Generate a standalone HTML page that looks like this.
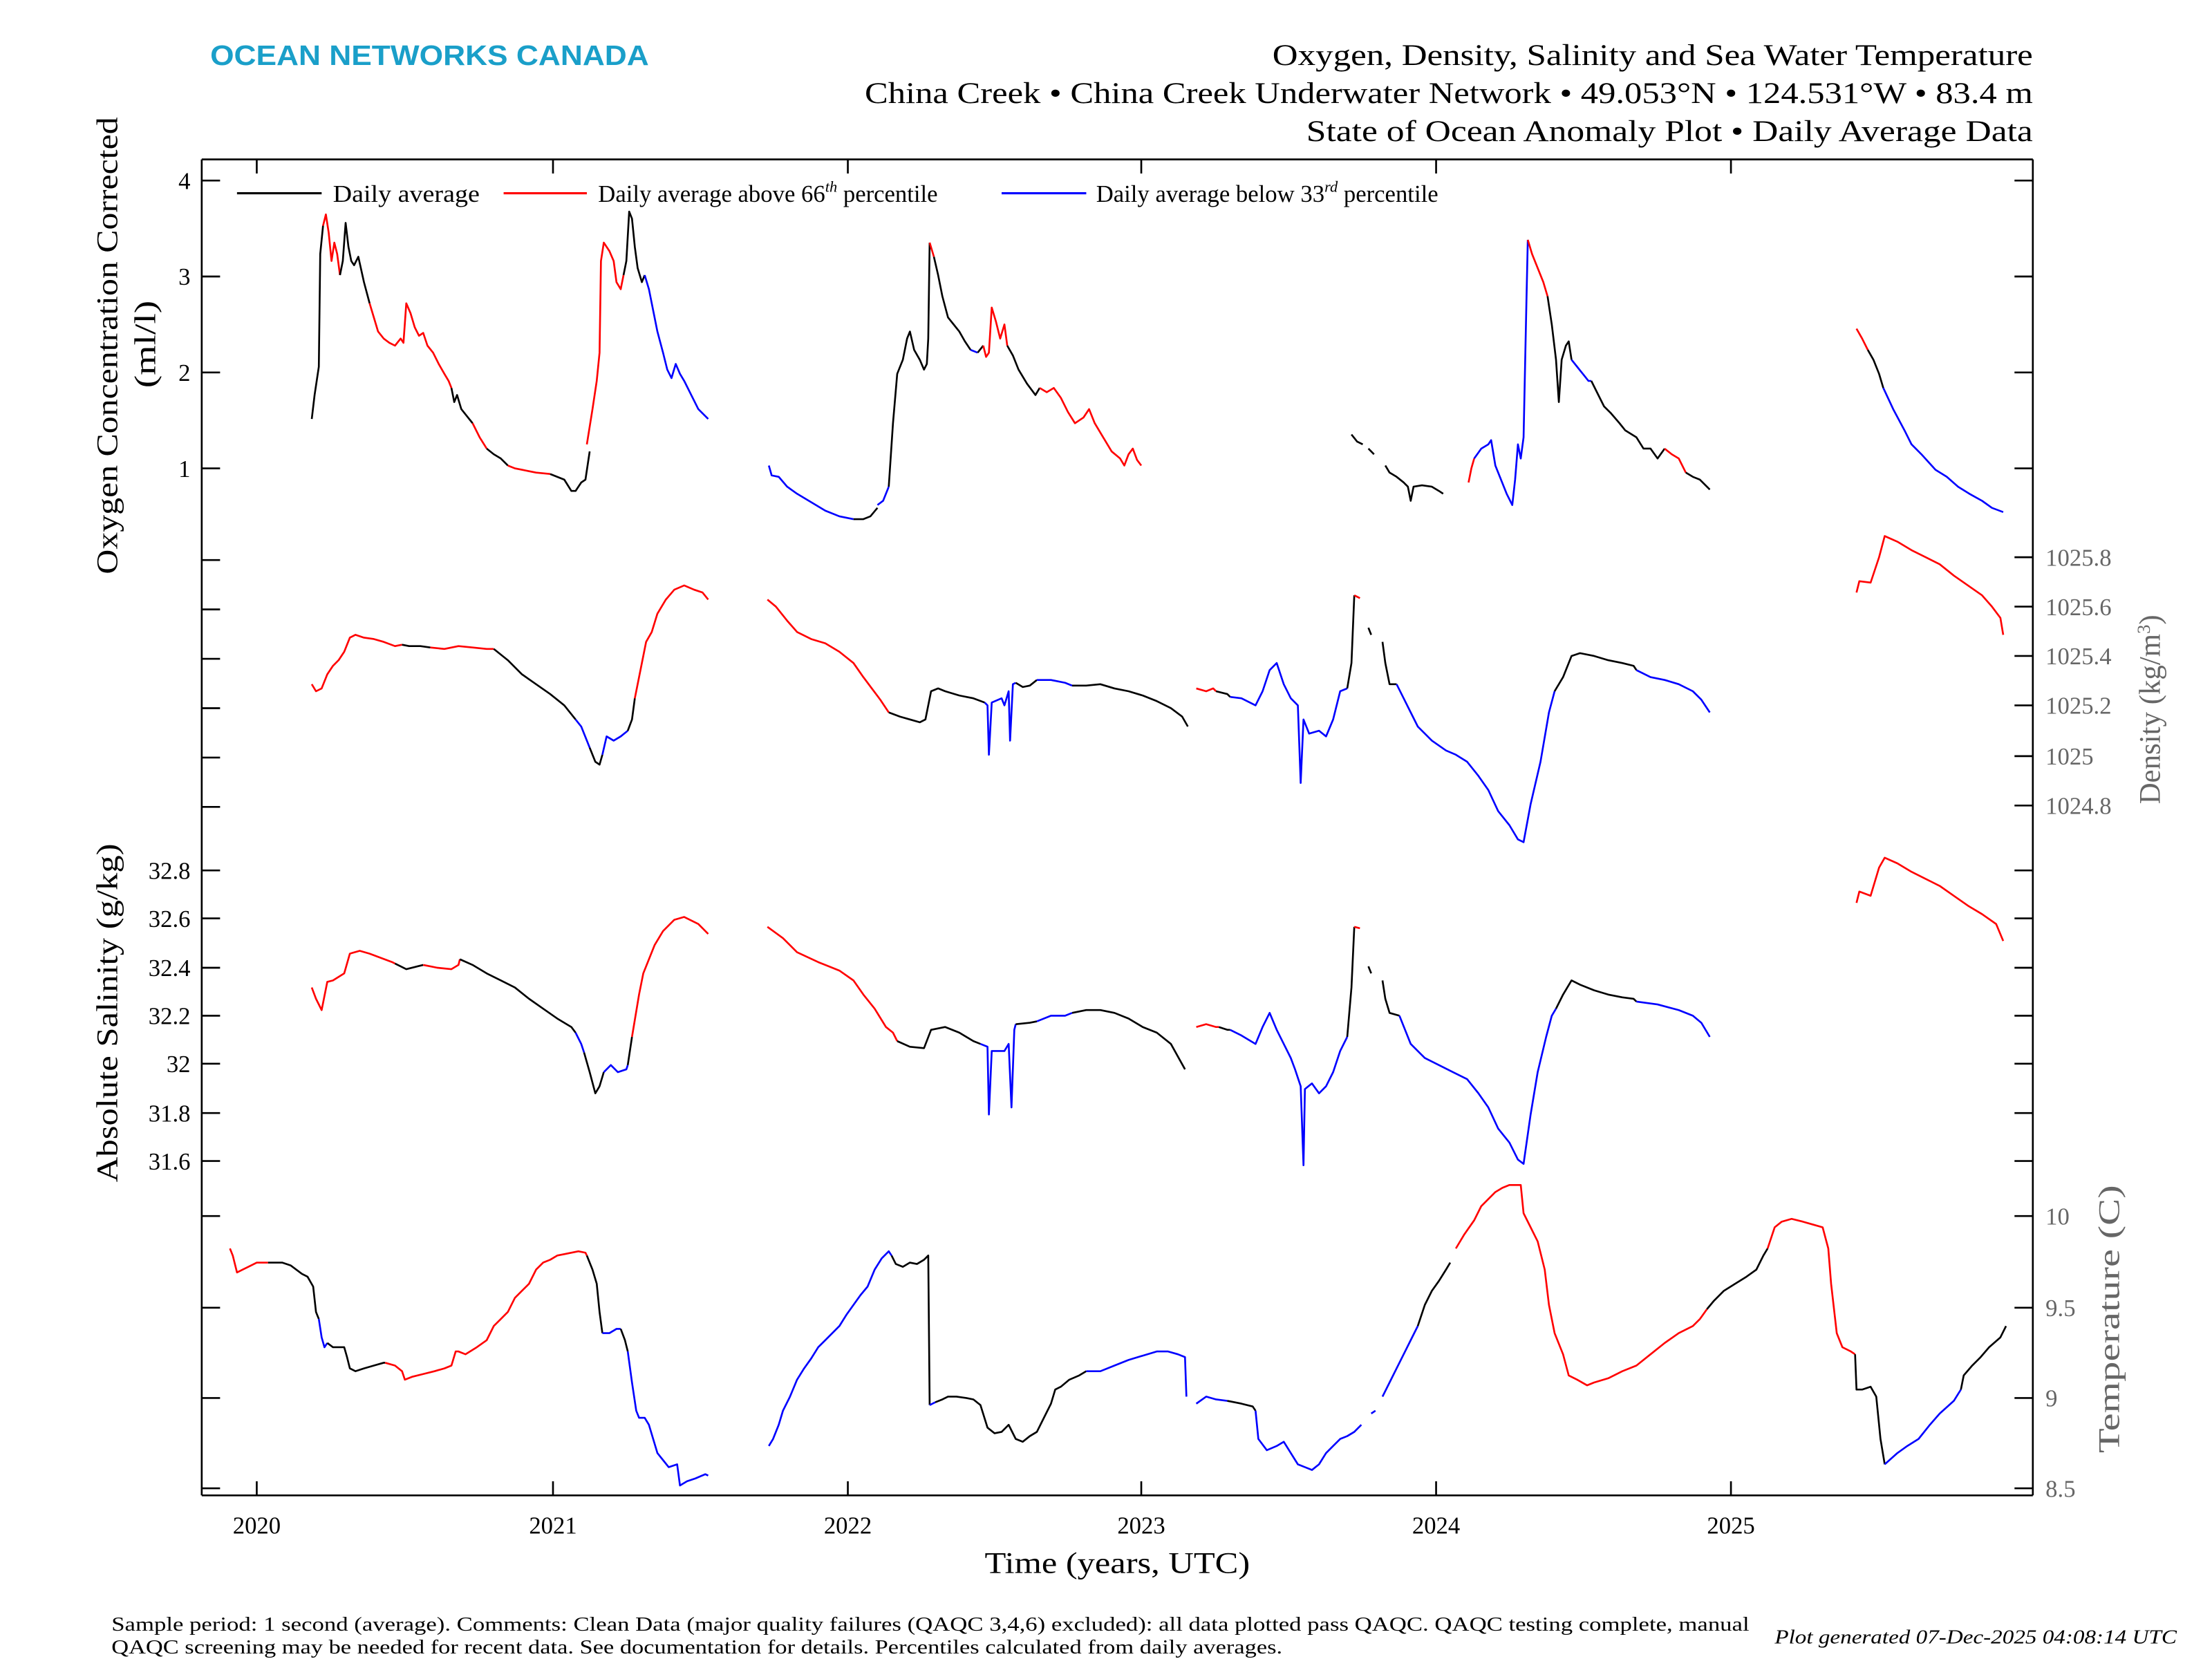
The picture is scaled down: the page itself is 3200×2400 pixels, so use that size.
<!DOCTYPE html>
<html><head><meta charset="utf-8"><style>
html,body{margin:0;padding:0;background:#fff}
svg{display:block}
text{font-family:"Liberation Serif",serif}
</style></head><body>
<svg width="3200" height="2400" viewBox="0 0 1568 1176" preserveAspectRatio="none" xmlns="http://www.w3.org/2000/svg">
<rect width="1568" height="1176" fill="#fff"/>
<text x="149" y="46" font-weight="bold" font-size="20" fill="#1a9fc9" textLength="311" lengthAdjust="spacingAndGlyphs" style="font-family:'Liberation Sans',sans-serif">OCEAN NETWORKS CANADA</text>
<g font-size="21" fill="#000">
<text x="902" y="46" textLength="539" lengthAdjust="spacingAndGlyphs">Oxygen, Density, Salinity and Sea Water Temperature</text>
<text x="613" y="73" textLength="828" lengthAdjust="spacingAndGlyphs">China Creek • China Creek Underwater Network • 49.053°N • 124.531°W • 83.4 m</text>
<text x="926" y="100" textLength="515" lengthAdjust="spacingAndGlyphs">State of Ocean Anomaly Plot • Daily Average Data</text>
</g>
<g stroke="#000" stroke-width="1.3" fill="none">
<line x1="143" y1="113" x2="1441" y2="113"/>
<line x1="143" y1="1060" x2="1441" y2="1060"/>
<line x1="143" y1="113" x2="143" y2="1060"/>
<line x1="1441" y1="113" x2="1441" y2="1060"/>
<path d="M182 1060v-10M392 1060v-10M601 1060v-10M809 1060v-10M1018 1060v-10M1227 1060v-10M182 113v10M392 113v10M601 113v10M809 113v10M1018 113v10M1227 113v10"/>
<path d="M143 128h13M143 196h13M143 264h13M143 332h13M1441 128h-13M1441 196h-13M1441 264h-13M1441 332h-13"/>
<path d="M143 397h13M143 432h13M143 467h13M143 502h13M143 537h13M143 572h13M1441 395h-13M1441 430h-13M1441 465h-13M1441 500h-13M1441 536h-13M1441 571h-13"/>
<path d="M143 617h13M143 651h13M143 686h13M143 720h13M143 754h13M143 789h13M143 823h13M1441 617h-13M1441 651h-13M1441 686h-13M1441 720h-13M1441 754h-13M1441 789h-13M1441 823h-13"/>
<path d="M143 862h13M143 927h13M143 991h13M143 1055h13M1441 862h-13M1441 927h-13M1441 991h-13M1441 1055h-13"/>
</g>
<g font-size="17" fill="#000" text-anchor="end">
<text x="135" y="134">4</text><text x="135" y="202">3</text><text x="135" y="270">2</text><text x="135" y="338">1</text>
<text x="135" y="623">32.8</text><text x="135" y="657">32.6</text><text x="135" y="692">32.4</text><text x="135" y="726">32.2</text><text x="135" y="760">32</text><text x="135" y="795">31.8</text><text x="135" y="829">31.6</text>
</g>
<g font-size="17" fill="#666">
<text x="1450" y="401">1025.8</text><text x="1450" y="436">1025.6</text><text x="1450" y="471">1025.4</text><text x="1450" y="506">1025.2</text><text x="1450" y="542">1025</text><text x="1450" y="577">1024.8</text>
<text x="1450" y="868">10</text><text x="1450" y="933">9.5</text><text x="1450" y="997">9</text><text x="1450" y="1061">8.5</text>
</g>
<g font-size="17" text-anchor="middle">
<text x="182" y="1087">2020</text><text x="392" y="1087">2021</text><text x="601" y="1087">2022</text><text x="809" y="1087">2023</text><text x="1018" y="1087">2024</text><text x="1227" y="1087">2025</text>
</g>
<text x="698" y="1115" font-size="21" textLength="188" lengthAdjust="spacingAndGlyphs">Time (years, UTC)</text>
<text transform="translate(83,407) rotate(-90)" font-size="21" textLength="324" lengthAdjust="spacingAndGlyphs">Oxygen Concentration Corrected</text>
<text transform="translate(110,275) rotate(-90)" font-size="21" textLength="62" lengthAdjust="spacingAndGlyphs">(ml/l)</text>
<text transform="translate(83,838) rotate(-90)" font-size="21" textLength="240" lengthAdjust="spacingAndGlyphs">Absolute Salinity (g/kg)</text>
<text transform="translate(1531,570) rotate(-90)" font-size="21" fill="#666">Density (kg/m<tspan font-size="13" dy="-7">3</tspan><tspan dy="7">)</tspan></text>
<text transform="translate(1502,1030) rotate(-90)" font-size="21" fill="#666" textLength="190" lengthAdjust="spacingAndGlyphs">Temperature (C)</text>
<g stroke-width="1.5">
<line x1="168" y1="137" x2="228" y2="137" stroke="#000"/>
<line x1="357" y1="137" x2="416" y2="137" stroke="#f00"/>
<line x1="710" y1="137" x2="770" y2="137" stroke="#00f"/>
</g>
<g font-size="17">
<text x="236" y="143" textLength="104" lengthAdjust="spacingAndGlyphs">Daily average</text>
<text x="424" y="143">Daily average above 66<tspan font-size="11" dy="-7" font-style="italic">th</tspan><tspan dy="7"> percentile</tspan></text>
<text x="777" y="143">Daily average below 33<tspan font-size="11" dy="-7" font-style="italic">rd</tspan><tspan dy="7"> percentile</tspan></text>
</g>
<g font-size="14">
<text x="79" y="1156" textLength="1161" lengthAdjust="spacingAndGlyphs">Sample period: 1 second (average). Comments: Clean Data (major quality failures (QAQC 3,4,6) excluded): all data plotted pass QAQC. QAQC testing complete, manual</text>
<text x="79" y="1172" textLength="830" lengthAdjust="spacingAndGlyphs">QAQC screening may be needed for recent data. See documentation for details. Percentiles calculated from daily averages.</text>
<text x="1258" y="1165" font-style="italic" textLength="285" lengthAdjust="spacingAndGlyphs">Plot generated 07-Dec-2025 04:08:14 UTC</text>
</g>
<g fill="none" stroke-width="1.3" stroke-linejoin="round">
<polyline stroke="#000" points="221,297 223,280 226,260 227,180 229,160"/>
<polyline stroke="#f00" points="229,160 231,152 233,165 235,185 237,172 239,180 241,195"/>
<polyline stroke="#000" points="241,195 243,185 245,158 247,175 249,185 251,188 254,182 258,200 262,215"/>
<polyline stroke="#f00" points="262,215 265,225 268,235 272,240 276,243 280,245 284,240 286,243 288,215 291,222 294,232 297,238 300,236 303,245 307,250 311,258 315,265 318,270 320,275"/>
<polyline stroke="#000" points="320,275 322,285 324,280 327,290 331,295 335,300"/>
<polyline stroke="#f00" points="335,300 340,310 345,318"/>
<polyline stroke="#000" points="345,318 350,322 355,325 360,330"/>
<polyline stroke="#f00" points="360,330 365,332 370,333 380,335 390,336"/>
<polyline stroke="#000" points="390,336 400,340 405,348 408,348 412,342 415,340 418,320"/>
<polyline stroke="#f00" points="416,315 420,290 423,270 425,250 426,185 428,172 432,178 435,185 437,200 440,205 442,195"/>
<polyline stroke="#000" points="442,195 444,185 446,150 448,155 450,175 452,190 455,200 457,195"/>
<polyline stroke="#00f" points="457,195 460,205 463,220 466,235 470,250 473,262 476,268 479,258 482,265 485,270 490,280 495,290 502,297"/>
<polyline stroke="#00f" points="545,330 547,337 552,338 558,345 565,350 575,356 585,362 595,366 605,368"/>
<polyline stroke="#000" points="605,368 612,368 617,366 622,360"/>
<polyline stroke="#00f" points="622,358 626,355 630,345"/>
<polyline stroke="#000" points="630,345 633,300 636,265 640,255 643,240 645,235 648,248 652,255 655,262 657,258 658,240 659,172"/>
<polyline stroke="#f00" points="659,172 662,182"/>
<polyline stroke="#000" points="662,182 665,195 668,210 672,225 676,230 680,235 684,242 688,248"/>
<polyline stroke="#00f" points="688,248 693,250"/>
<polyline stroke="#000" points="693,250 697,245"/>
<polyline stroke="#f00" points="697,245 699,253 701,250 703,218 706,228 709,240 712,230 714,245"/>
<polyline stroke="#000" points="714,245 718,252 722,262 728,272 734,280 737,275"/>
<polyline stroke="#f00" points="737,275 742,278 747,275 752,282 757,292 762,300 768,296 772,290 776,300 782,310 788,320 794,325 797,330 800,322 803,318 806,326 809,330"/>
<polyline stroke="#000" points="958,308 962,313 966,315"/>
<polyline stroke="#000" points="970,318 974,322"/>
<polyline stroke="#000" points="982,330 985,335 990,338 995,342 998,345 1000,355 1002,345 1008,344 1015,345 1020,348 1023,350"/>
<polyline stroke="#f00" points="1041,342 1043,332 1045,325"/>
<polyline stroke="#00f" points="1045,325 1050,318 1055,315 1057,312 1060,330 1064,340 1068,350 1072,358 1074,340 1076,315 1078,325 1080,310 1082,215 1083,170"/>
<polyline stroke="#f00" points="1083,170 1086,180 1090,190 1094,200 1097,210"/>
<polyline stroke="#000" points="1097,210 1100,230 1103,255 1105,285 1107,255 1110,245 1112,242 1114,255"/>
<polyline stroke="#00f" points="1114,255 1118,260 1122,265 1126,270 1128,270"/>
<polyline stroke="#000" points="1128,270 1132,278 1137,288 1142,293 1148,300 1152,305 1160,310 1165,318 1170,318 1175,325 1180,318"/>
<polyline stroke="#f00" points="1180,318 1185,322 1190,325 1195,335"/>
<polyline stroke="#000" points="1195,335 1200,338 1205,340 1212,347"/>
<polyline stroke="#f00" points="1316,233 1320,240 1324,248"/>
<polyline stroke="#000" points="1324,248 1328,255 1332,265 1335,275"/>
<polyline stroke="#00f" points="1335,275 1342,290 1350,305 1355,315 1362,322 1372,333 1380,338 1388,345 1396,350 1405,355 1412,360 1420,363"/>
<polyline stroke="#f00" points="221,485 224,490 228,488 232,478 236,472 240,468 244,462 248,452 252,450 258,452 265,453 272,455 280,458 285,457"/>
<polyline stroke="#000" points="285,457 290,458 298,458 305,459"/>
<polyline stroke="#f00" points="305,459 315,460 325,458 335,459 345,460 350,460"/>
<polyline stroke="#000" points="350,460 360,468 370,478 380,485 390,492 400,500 408,510"/>
<polyline stroke="#00f" points="408,510 412,515 416,525 418,530"/>
<polyline stroke="#000" points="418,530 422,540 425,542 427,535"/>
<polyline stroke="#00f" points="427,535 430,522 435,525 440,522 445,518"/>
<polyline stroke="#000" points="445,518 448,510 450,495"/>
<polyline stroke="#f00" points="450,495 455,470 458,455 462,448 466,435 472,425 478,418 485,415 492,418 498,420 502,425"/>
<polyline stroke="#f00" points="544,425 550,430 558,440 565,448 575,453 585,456 595,462 605,470 612,480 618,488 624,496 628,502 630,505"/>
<polyline stroke="#000" points="630,505 638,508 645,510 652,512 656,510 660,490 665,488 670,490 680,493 690,495 698,498"/>
<polyline stroke="#00f" points="698,498 700,500 701,535 703,498 710,495 712,500 715,490 716,525 718,485 720,484"/>
<polyline stroke="#000" points="720,484 725,487 730,486 735,482"/>
<polyline stroke="#00f" points="735,482 745,482 755,484 760,486"/>
<polyline stroke="#000" points="760,486 770,486 780,485 790,488 800,490 810,493 820,497 830,502 838,508 842,515"/>
<polyline stroke="#f00" points="848,488 855,490 860,488 862,490"/>
<polyline stroke="#000" points="862,490 870,492 872,494"/>
<polyline stroke="#00f" points="872,494 880,495 890,500 895,490 900,475 905,470 910,485 915,495 920,500 922,555 924,510 928,520 935,518 940,522 945,510 950,490 955,488"/>
<polyline stroke="#000" points="955,488 958,470 960,422"/>
<polyline stroke="#f00" points="960,422 964,424"/>
<polyline stroke="#000" points="970,445 972,450"/>
<polyline stroke="#000" points="980,455 982,470 985,485 990,485"/>
<polyline stroke="#00f" points="990,485 995,495 1000,505 1005,515 1015,525 1025,532 1032,535 1040,540 1048,550 1055,560 1062,575 1070,585 1076,595 1080,597 1085,570 1092,540 1098,505 1102,490"/>
<polyline stroke="#000" points="1102,490 1108,480 1114,465 1120,463 1130,465 1140,468 1150,470 1158,472 1160,475"/>
<polyline stroke="#00f" points="1160,475 1170,480 1180,482 1190,485 1200,490 1206,496 1212,505"/>
<polyline stroke="#f00" points="1316,420 1318,412 1326,413 1332,395 1336,380 1345,384 1355,390 1365,395 1375,400 1385,408 1395,415 1405,422 1412,430 1418,438 1420,450"/>
<polyline stroke="#f00" points="221,700 224,708 228,716 232,696 236,695 244,690 248,676 255,674 262,676 270,679 278,682 280,683"/>
<polyline stroke="#000" points="280,683 288,687 296,685 300,684"/>
<polyline stroke="#f00" points="300,684 310,686 320,687 325,684 326,680"/>
<polyline stroke="#000" points="326,680 335,684 345,690 355,695 365,700 375,708 385,715 395,722 405,728 408,732"/>
<polyline stroke="#00f" points="408,732 412,740 414,746"/>
<polyline stroke="#000" points="414,746 418,760 422,775 425,770 428,760"/>
<polyline stroke="#00f" points="428,760 433,755 438,760 444,758 445,755"/>
<polyline stroke="#000" points="445,755 448,735"/>
<polyline stroke="#f00" points="448,735 453,705 456,690 460,680 464,670 470,660 478,652 485,650 495,655 502,662"/>
<polyline stroke="#f00" points="544,657 555,665 565,675 580,682 595,688 605,695 612,705 620,715 628,728 633,732 636,738"/>
<polyline stroke="#000" points="636,738 645,742 655,743 660,730 670,728 680,732 690,738 695,740"/>
<polyline stroke="#00f" points="695,740 700,742 701,790 703,745 712,745 715,740 717,785 719,730 720,726"/>
<polyline stroke="#000" points="720,726 730,725 735,724"/>
<polyline stroke="#00f" points="735,724 745,720 755,720 760,718"/>
<polyline stroke="#000" points="760,718 770,716 780,716 790,718 800,722 810,728 820,732 830,740 840,758"/>
<polyline stroke="#f00" points="848,728 855,726 862,728 864,728"/>
<polyline stroke="#000" points="864,728 870,730 872,730"/>
<polyline stroke="#00f" points="872,730 880,734 890,740 895,728 900,718 905,730 910,740 915,750 918,758 922,770 924,826 925,772 930,768 935,775 940,770 945,760 950,745 955,735"/>
<polyline stroke="#000" points="955,735 958,700 960,657"/>
<polyline stroke="#f00" points="960,657 964,658"/>
<polyline stroke="#000" points="970,685 972,690"/>
<polyline stroke="#000" points="980,695 982,708 985,718 992,720"/>
<polyline stroke="#00f" points="992,720 1000,740 1010,750 1020,755 1030,760 1040,765 1048,775 1055,785 1062,800 1070,810 1076,822 1080,825 1085,790 1090,760 1096,735 1100,720 1103,715"/>
<polyline stroke="#000" points="1103,715 1108,705 1114,695 1120,698 1130,702 1140,705 1150,707 1158,708 1160,710"/>
<polyline stroke="#00f" points="1160,710 1175,712 1190,716 1200,720 1206,725 1212,735"/>
<polyline stroke="#f00" points="1316,640 1318,632 1326,635 1332,615 1336,608 1345,612 1355,618 1365,623 1375,628 1385,635 1395,642 1405,648 1415,655 1420,667"/>
<polyline stroke="#f00" points="163,885 165,890 168,902 172,900 176,898 182,895 188,895 190,895"/>
<polyline stroke="#000" points="190,895 200,895 206,897 210,900 214,903 218,905 222,912 224,930 226,935"/>
<polyline stroke="#00f" points="226,935 228,948 230,955 232,952"/>
<polyline stroke="#000" points="232,952 236,955 240,955 244,955 246,962 248,970 252,972 258,970 265,968 272,966 273,966"/>
<polyline stroke="#f00" points="273,966 280,968 285,972 287,978 292,976 300,974 308,972 315,970 320,968 323,958 325,958 330,960 338,955 345,950 350,940 355,935 360,930 365,920 370,915 375,910 380,900 385,895 390,893 395,890 400,889 410,887 415,888 416,890"/>
<polyline stroke="#000" points="416,890 420,900 423,910 425,930 427,945"/>
<polyline stroke="#00f" points="427,945 432,945 437,942 440,942"/>
<polyline stroke="#000" points="440,942 443,950 445,958"/>
<polyline stroke="#00f" points="445,958 448,980 451,1000 453,1005 457,1005 460,1010 463,1020 466,1030 470,1035 474,1040 480,1038 482,1053 487,1050 493,1048 500,1045 502,1046"/>
<polyline stroke="#00f" points="545,1025 548,1020 552,1010 555,1000 560,990 565,978 570,970 575,963 580,955 585,950 590,945 595,940 600,932 605,925 610,918 615,912 620,900 625,892 630,887 632,890"/>
<polyline stroke="#000" points="632,890 635,896 640,898 645,895 650,896 655,893 658,890 659,996"/>
<polyline stroke="#00f" points="659,996 663,994"/>
<polyline stroke="#000" points="663,994 668,992 672,990 678,990 685,991 690,992 695,996 700,1012 705,1016 710,1015 715,1010 720,1020 725,1022 730,1018 735,1015 740,1005 745,995 748,985 752,983 758,978 765,975 770,972"/>
<polyline stroke="#00f" points="770,972 780,972 790,968 800,964 810,961 820,958 828,958 835,960 840,962 841,990"/>
<polyline stroke="#00f" points="848,995 855,990 862,992 870,993"/>
<polyline stroke="#000" points="870,993 880,995 888,997 890,1000"/>
<polyline stroke="#00f" points="890,1000 892,1020 898,1028 905,1025 910,1022 915,1030 920,1038 925,1040 930,1042 935,1038 940,1030 945,1025 950,1020 955,1018 960,1015 965,1010"/>
<polyline stroke="#00f" points="972,1002 975,1000"/>
<polyline stroke="#00f" points="980,990 985,980 990,970 995,960 1000,950 1005,940"/>
<polyline stroke="#000" points="1005,940 1010,925 1015,915 1020,908 1025,900 1028,895"/>
<polyline stroke="#f00" points="1032,885 1038,875 1045,865 1050,855 1055,850 1060,845 1065,842 1070,840 1075,840 1078,840 1080,860 1085,870 1090,880 1095,900 1098,925 1102,945 1108,960 1112,975 1118,978 1125,982 1130,980 1140,977 1150,972 1160,968 1170,960 1180,952 1190,945 1200,940 1205,935 1210,928"/>
<polyline stroke="#000" points="1210,928 1215,922 1222,915 1230,910 1238,905 1245,900 1250,890 1253,885"/>
<polyline stroke="#f00" points="1253,885 1258,870 1263,866 1270,864 1278,866 1285,868 1292,870 1296,885 1298,910 1302,945 1306,955 1312,958 1315,960"/>
<polyline stroke="#000" points="1315,960 1316,985 1320,985 1326,983 1330,990 1333,1020 1336,1038"/>
<polyline stroke="#00f" points="1336,1038 1345,1030 1352,1025 1360,1020 1368,1010 1375,1002 1385,993 1390,985"/>
<polyline stroke="#000" points="1390,985 1392,975 1398,968 1404,962 1410,955 1418,948 1422,940"/>
</g>
</svg>
</body></html>
